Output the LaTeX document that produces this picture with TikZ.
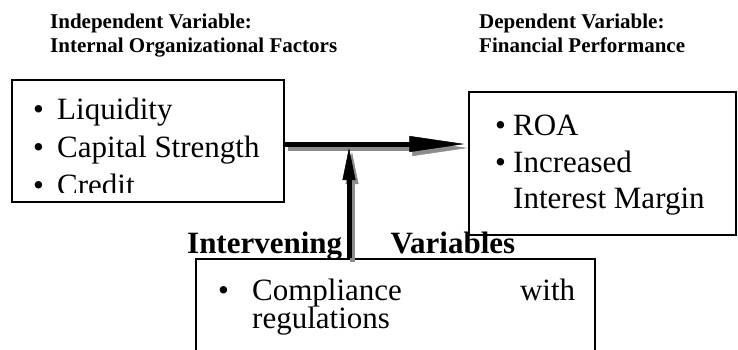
\documentclass[tikz,border=0pt]{standalone}
\usepackage{fontspec}
\setmainfont{Liberation Serif}
\usetikzlibrary{arrows.meta}
\newcommand{\itembul}[1][24pt]{\makebox[#1][l]{\textbullet}}

\begin{document}
\begin{tikzpicture}[x=1pt, y=-1pt, box/.style={draw,line width=1.2pt,inner sep=0pt}, item/.style={anchor=base west,inner sep=0pt,font=\fontsize{31}{37}\selectfont}, head/.style={anchor=base west,inner sep=0pt,font=\fontsize{21}{24}\selectfont\bfseries}, arr/.style={line width=5pt,-{Triangle[length=55pt,width=16pt,line width=0.5pt]}}, varr/.style={line width=5pt,-{Triangle[length=32pt,width=13pt,line width=0.5pt]}}, shade/.style={draw=black!45,transform canvas={shift={(3pt,-4pt)}}}]
\useasboundingbox (0,0) rectangle (738,349);
\clip (0,0) rectangle (738,349);
% headings
\node[head] (indep) at (50,28) {Independent Variable:};
\node[head] (indep2) at (50,52) {Internal Organizational Factors};
\node[head] (dep) at (479,28) {Dependent Variable:};
\node[head] (dep2) at (479,52) {Financial Performance};
% boxes
\node[box,minimum width=272pt,minimum height=122pt] (fbox) at (148,141) {};
\node[box,minimum width=267pt,minimum height=143pt] (pbox) at (602.5,163.5) {};
\node[box,minimum width=399pt,minimum height=140pt] (ibox) at (395.5,329) {};
\begin{scope}
\clip (fbox.north west) rectangle ([yshift=10pt]fbox.south east);
\node[item] (liq) at (33,119) {\itembul Liquidity};
\node[item] (cap) at (33,157) {\itembul Capital Strength};
\node[item] (cred) at (33,195) {\itembul Credit};
\end{scope}
\node[item] (roa) at (495,135) {\itembul[18pt]ROA};
\node[item] (incr) at (495,172) {\itembul[18pt]Increased};
\node[item] (marg) at (513,208) {Interest Margin};
\node[item,font=\fontsize{31}{37}\selectfont\bfseries] (interv) at (187,253) {\makebox[328pt][s]{Intervening\hfill Variables}};
\node[item] (comp) at (218,300) {\itembul[34pt]\makebox[323pt][s]{Compliance\hfill with}};
\node[item] (regs) at (252,328) {regulations};
% arrows
\coordinate (hs) at ([yshift=-3pt]fbox.east);
\coordinate (he) at (hs -| pbox.west);
\coordinate (join) at (349,148);
\coordinate (vs) at (ibox.north -| join);
\draw[arr,shade,shorten >=4pt] (hs) -- (he);
\draw[varr,shade] (vs) -- (join);
\draw[arr,shorten >=4pt] (hs) -- (he);
\draw[varr] (vs) -- (join);
\end{tikzpicture}
\end{document}
